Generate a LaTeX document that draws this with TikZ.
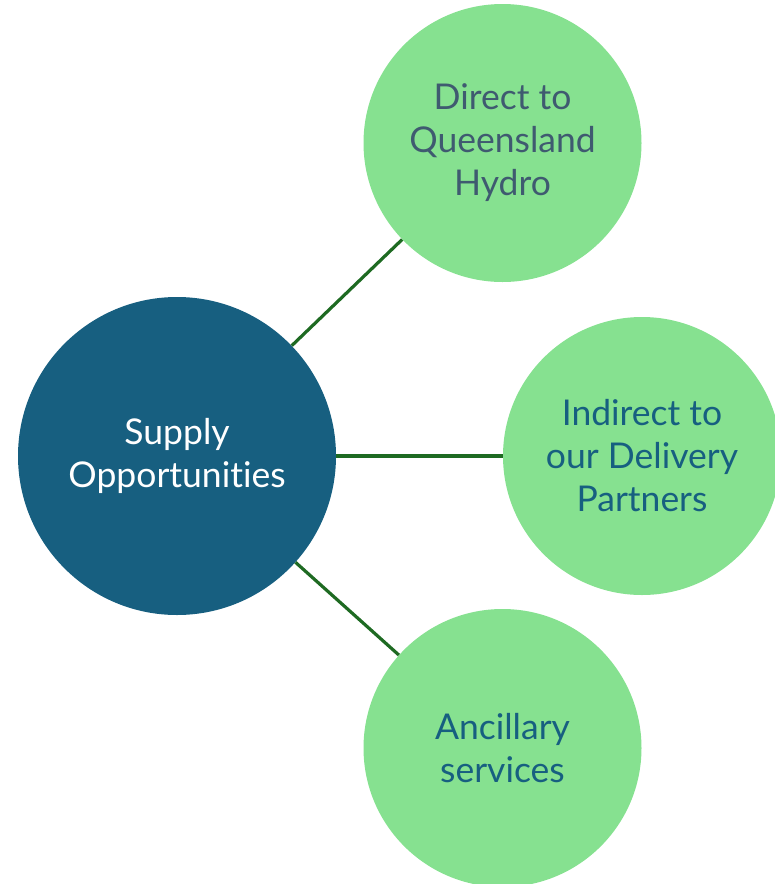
\documentclass[tikz,border=0pt]{standalone}
\usepackage{fontspec}
\setmainfont{Lato}[Ligatures=NoCommon]
\usetikzlibrary{positioning}
\definecolor{hubblue}{HTML}{175F80}
\definecolor{leafgreen}{HTML}{86E190}
\definecolor{linkgreen}{HTML}{1E6A22}
\definecolor{greytext}{HTML}{3F5A70}
\definecolor{bluetext}{HTML}{175F80}

\begin{document}
\begin{tikzpicture}[align=center, on grid,
	hub/.style = {circle, fill = hubblue, text = white, minimum size = 318pt, inner sep = 0pt, font = \fontsize{35.5}{43}\selectfont},
	leaf/.style = {circle, fill = leafgreen, text = bluetext, minimum size = 278pt, inner sep = 0pt, font = \fontsize{35.5}{43}\selectfont},
	link/.style = {draw = linkgreen, line width = 3.2pt}]
	\useasboundingbox (0,0) rectangle (775pt,-884pt);
	\node[hub] (supply) at (177pt,-456pt) {Supply\\Opportunities};
	\node[leaf, text = greytext] (direct) [above right = 313pt and 325.5pt of supply] {Direct to\\Queensland\\Hydro};
	\node[leaf] (indirect) [right = 465pt of supply] {Indirect to\\our Delivery\\Partners};
	\node[leaf] (ancillary) [below right = 292pt and 325.5pt of supply] {Ancillary\\services};
	\draw[link] (supply) -- (direct);
	\draw[link] (supply) -- (indirect);
	\draw[link] (supply) -- (ancillary);
\end{tikzpicture}
\end{document}
